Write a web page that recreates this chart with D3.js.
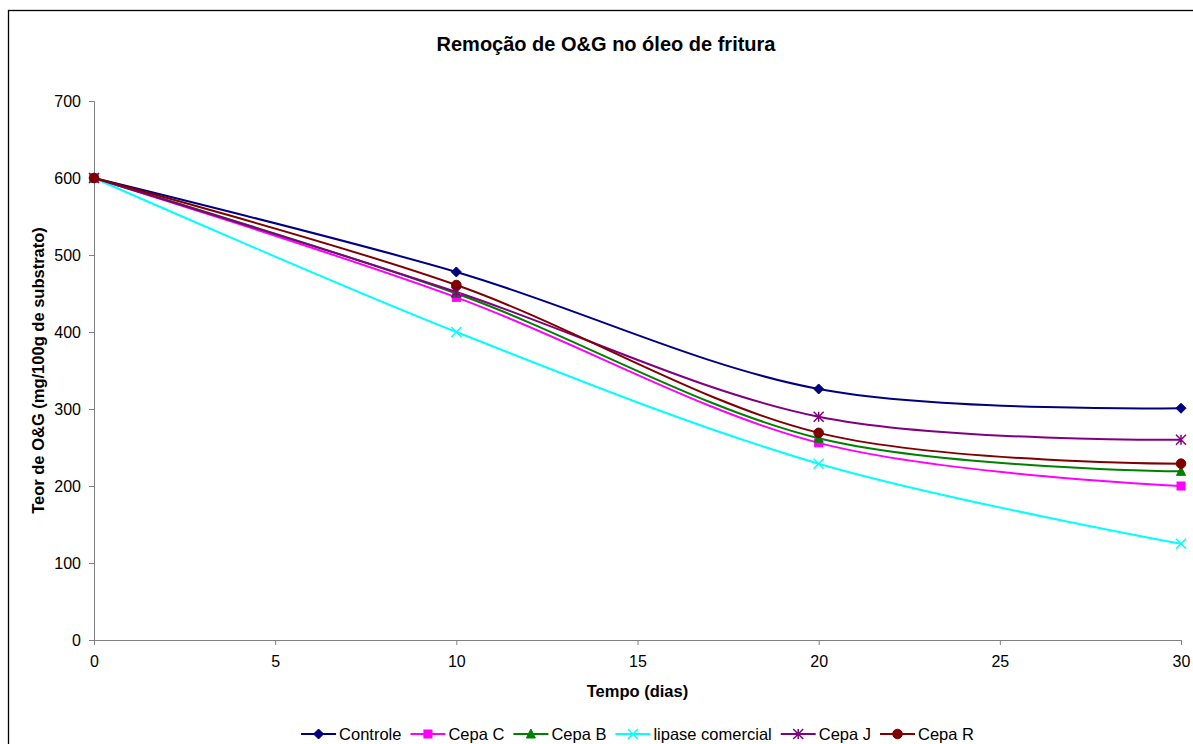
<!DOCTYPE html>
<html>
<head>
<meta charset="utf-8">
<script src="https://cdn.jsdelivr.net/npm/d3@7"></script>
<style>
  html, body { margin: 0; padding: 0; background: #fff; }
  svg { display: block; font-family: "Liberation Sans", Arial, sans-serif; }
</style>
</head>
<body>
<svg id="chart" width="1193" height="744"></svg>
<script>
// Days of measurement
const days = [0, 10, 20, 30];

// O&G content (mg/100g of substrate) per treatment
const controle = [600, 478, 326, 301];
const cepaC = [600, 445, 256, 200];
const cepaB = [600, 450, 262, 219];
const lipaseComercial = [600, 400, 229, 125];
const cepaJ = [600, 452, 290, 260];
const cepaR = [600, 461, 269, 229];

const seriesNames = ["Controle", "Cepa C", "Cepa B", "lipase comercial", "Cepa J", "Cepa R"];
const seriesValues = [controle, cepaC, cepaB, lipaseComercial, cepaJ, cepaR];
const seriesColors = ["#000080", "#ff00ff", "#008000", "#00ffff", "#800080", "#800000"];
const seriesMarkers = ["diamond", "square", "triangle", "x", "star", "circle"];

const xTicks = [0, 5, 10, 15, 20, 25, 30];
const yTicks = [0, 100, 200, 300, 400, 500, 600, 700];

const svg = d3.select("#chart");

// outer chart frame
svg.append("rect")
  .attr("x", 8.5).attr("y", 10.5)
  .attr("width", 1300).attr("height", 900)
  .attr("fill", "none").attr("stroke", "#000").attr("stroke-width", 1.3);

const plot = { left: 94, right: 1181, top: 101, bottom: 640 };

const x = d3.scaleLinear().domain([0, 30]).range([plot.left, plot.right]);
const y = d3.scaleLinear().domain([0, 700]).range([plot.bottom, plot.top]);

// axes
const xAxis = svg.append("g")
  .attr("transform", `translate(0,${plot.bottom})`)
  .call(d3.axisBottom(x).tickValues(xTicks).tickSize(5).tickPadding(11).tickFormat(d3.format("d")));
const yAxis = svg.append("g")
  .attr("transform", `translate(${plot.left},0)`)
  .call(d3.axisLeft(y).tickValues(yTicks).tickSize(5).tickPadding(8).tickFormat(d3.format("d")));

[xAxis, yAxis].forEach(g => {
  g.select(".domain").attr("stroke", "#808080").attr("stroke-width", 1);
  g.selectAll(".tick line").attr("stroke", "#808080");
  g.selectAll(".tick text").attr("fill", "#000").style("font-size", "16px")
    .style("font-family", "'Liberation Sans', Arial, sans-serif");
});

// titles
svg.append("text")
  .attr("x", 606).attr("y", 51)
  .attr("text-anchor", "middle")
  .style("font-size", "20px").style("font-weight", "bold")
  .text("Remoção de O&G no óleo de fritura");

svg.append("text")
  .attr("x", (plot.left + plot.right) / 2).attr("y", 697)
  .attr("text-anchor", "middle")
  .style("font-size", "16.5px").style("font-weight", "bold")
  .text("Tempo (dias)");

svg.append("text")
  .attr("transform", `translate(44,${(plot.top + plot.bottom) / 2}) rotate(-90)`)
  .attr("text-anchor", "middle")
  .style("font-size", "16.5px").style("font-weight", "bold")
  .text("Teor de O&G (mg/100g de substrato)");

// markers
function drawMarker(g, type, cx, cy, color) {
  const s = 4;
  if (type === "diamond") {
    g.append("path").attr("d", `M${cx},${cy - s - 1}L${cx + s + 1},${cy}L${cx},${cy + s + 1}L${cx - s - 1},${cy}Z`)
      .attr("fill", color).attr("stroke", color);
  } else if (type === "square") {
    g.append("rect").attr("x", cx - s).attr("y", cy - s).attr("width", 2 * s).attr("height", 2 * s)
      .attr("fill", color).attr("stroke", color);
  } else if (type === "triangle") {
    g.append("path").attr("d", `M${cx},${cy - s - 1}L${cx + s + 0.5},${cy + s}L${cx - s - 0.5},${cy + s}Z`)
      .attr("fill", color).attr("stroke", color);
  } else if (type === "x") {
    g.append("path").attr("d", `M${cx - s - 1},${cy - s - 1}L${cx + s + 1},${cy + s + 1}M${cx - s - 1},${cy + s + 1}L${cx + s + 1},${cy - s - 1}`)
      .attr("stroke", color).attr("stroke-width", 1.5).attr("fill", "none");
  } else if (type === "star") {
    g.append("path").attr("d", `M${cx - s - 1},${cy - s - 1}L${cx + s + 1},${cy + s + 1}M${cx - s - 1},${cy + s + 1}L${cx + s + 1},${cy - s - 1}M${cx},${cy - s - 1}L${cx},${cy + s + 1}`)
      .attr("stroke", color).attr("stroke-width", 1.5).attr("fill", "none");
  } else if (type === "circle") {
    g.append("circle").attr("cx", cx).attr("cy", cy).attr("r", s + 0.8)
      .attr("fill", color).attr("stroke", color);
  }
}

const line = d3.line()
  .x((d, i) => x(days[i]))
  .y(d => y(d))
  .curve(d3.curveCardinal.tension(0));

const seriesG = svg.append("g");
seriesValues.forEach((vals, k) => {
  seriesG.append("path")
    .datum(vals)
    .attr("d", line)
    .attr("fill", "none")
    .attr("stroke", seriesColors[k])
    .attr("stroke-width", 2);
});
seriesValues.forEach((vals, k) => {
  const g = seriesG.append("g");
  vals.forEach((v, i) => drawMarker(g, seriesMarkers[k], x(days[i]), y(v), seriesColors[k]));
});

// legend
const legend = svg.append("g");
const legendY = 734;
const items = [];
seriesNames.forEach((name, k) => {
  const g = legend.append("g");
  g.append("line").attr("x1", 0).attr("x2", 35).attr("y1", 0).attr("y2", 0)
    .attr("stroke", seriesColors[k]).attr("stroke-width", 2);
  drawMarker(g, seriesMarkers[k], 17.5, 0, seriesColors[k]);
  const t = g.append("text").attr("x", 38).attr("y", 6)
    .style("font-size", "16.5px").text(name);
  items.push({ g, w: 38 + t.node().getComputedTextLength() });
});
const gap = 9;
const totalW = d3.sum(items, d => d.w) + gap * (items.length - 1);
let cursor = (plot.left + plot.right) / 2 - totalW / 2;
items.forEach(it => {
  it.g.attr("transform", `translate(${cursor},${legendY})`);
  cursor += it.w + gap;
});
</script>
</body>
</html>
